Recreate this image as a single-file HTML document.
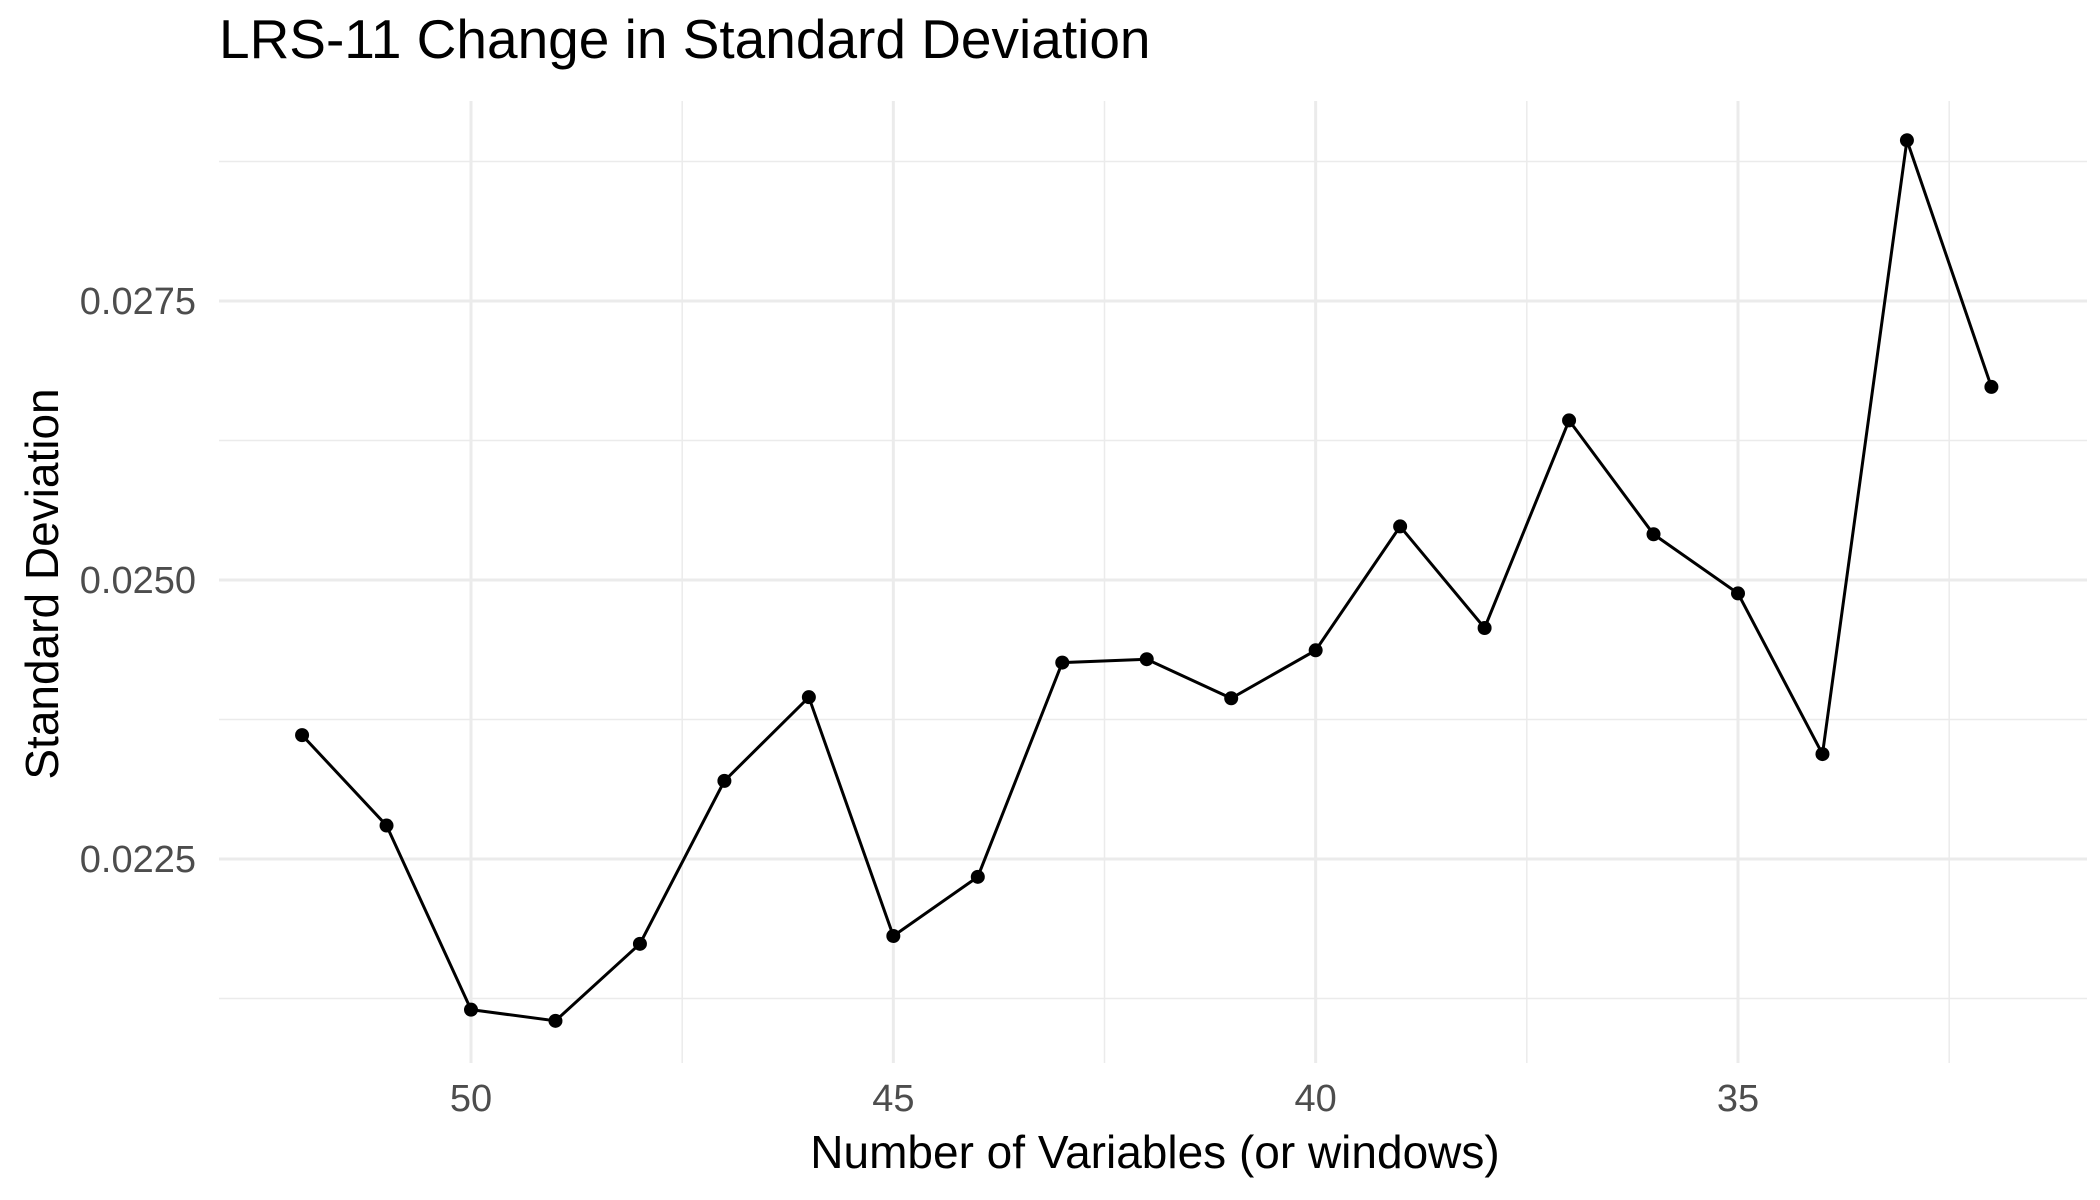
<!DOCTYPE html>
<html><head><meta charset="utf-8"><style>
html,body{margin:0;padding:0;background:#fff;}
svg{display:block;font-family:"Liberation Sans",Arial,sans-serif;}
</style></head><body>
<svg id="chart" width="2100" height="1200">
<text x="219" y="58" font-size="55" fill="#000">LRS-11 Change in Standard Deviation</text>
<g id="grid"></g>
<g id="series"></g>
<text x="1155" y="1168" font-size="46" text-anchor="middle" fill="#000">Number of Variables (or windows)</text>
<text transform="translate(58,584) rotate(-90)" font-size="46" text-anchor="middle" fill="#000">Standard Deviation</text>
</svg>
<script>
const categories=[52,51,50,49,48,47,46,45,44,43,42,41,40,39,38,37,36,35,34,33,32];
const sdValues=[0.02361,0.02280,0.02115,0.02105,0.02174,0.02320,0.02395,0.02181,0.02234,0.02426,0.02429,0.02394,0.02437,0.02548,0.02457,0.02643,0.02541,0.02488,0.02344,0.02894,0.02673];
const xTicks=[50,45,40,35];
const yTicks=[0.0225,0.0250,0.0275];
const yTickLabels=["0.0225","0.0250","0.0275"];

const L=219,R=2087,T=101,B=1063;
function xs(v){return 471+(50-v)*(1738-471)/15;}
function ys(v){return 859-(v-0.0225)*(859-301)/0.005;}
const NS="http://www.w3.org/2000/svg";
const grid=document.getElementById('grid'),ser=document.getElementById('series');
function mk(tag,attrs,parent){const e=document.createElementNS(NS,tag);for(const k in attrs)e.setAttribute(k,attrs[k]);parent.appendChild(e);return e;}
// minor grid (between and after majors, not before first)
for(let i=0;i<xTicks.length;i++){
  const v=xTicks[i]-2.5;
  const x=xs(v);
  if(x>L&&x<R){const l=mk('line',{x1:x,x2:x,y1:T,y2:B,stroke:'#ebebeb','stroke-width':1.5},grid);
  
  }
}
for(let i=0;i<=yTicks.length;i++){
  const v=yTicks[0]-0.00125+i*0.0025;
  const y=ys(v);
  if(y>T&&y<B){const l=mk('line',{x1:L,x2:R,y1:y,y2:y,stroke:'#ebebeb','stroke-width':1.5},grid);
  
  }
}
xTicks.forEach(v=>{
  const x=xs(v);
  const l=mk('line',{x1:x,x2:x,y1:T,y2:B,stroke:'#ebebeb','stroke-width':3},grid);
  
  
  const t=mk('text',{x:x,y:1111,'font-size':38,'text-anchor':'middle',fill:'#4d4d4d'},grid);
  t.textContent=v;
  
  
});
yTicks.forEach((v,i)=>{
  const y=ys(v);
  const l=mk('line',{x1:L,x2:R,y1:y,y2:y,stroke:'#ebebeb','stroke-width':3},grid);
  
  
  const t=mk('text',{x:196,y:y+13,'font-size':38,'text-anchor':'end',fill:'#4d4d4d'},grid);
  t.textContent=yTickLabels[i];
  
  
});
const pts=categories.map((c,i)=>xs(c)+','+ys(sdValues[i])).join(' ');
const pl=mk('polyline',{points:pts,fill:'none',stroke:'#000','stroke-width':3},ser);


categories.forEach((c,i)=>{
  const p=mk('circle',{cx:xs(c),cy:ys(sdValues[i]),r:7,fill:'#000'},ser);
  
  
});
</script>
</body></html>
